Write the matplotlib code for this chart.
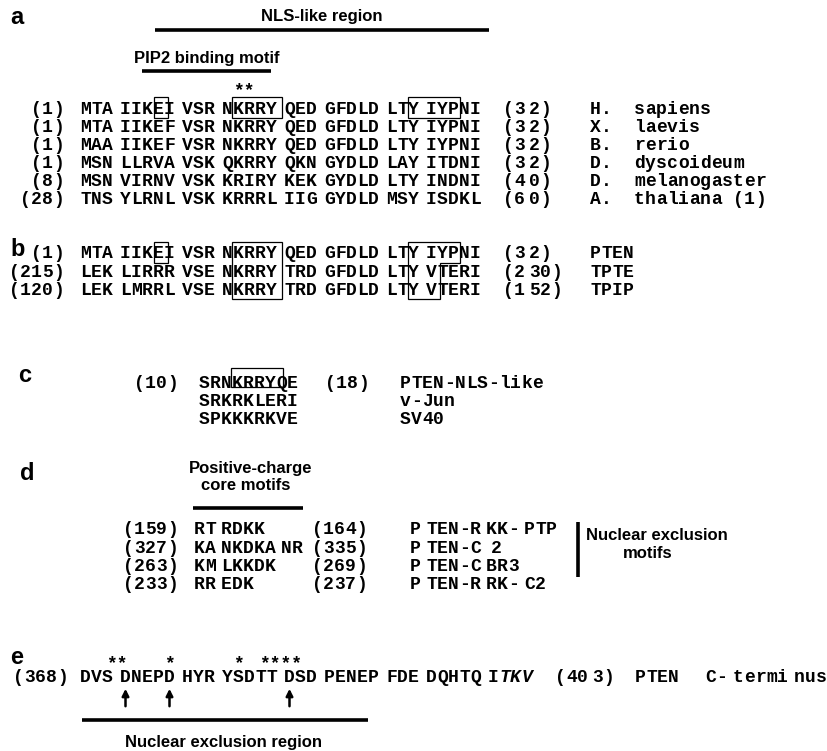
import matplotlib
matplotlib.use('Agg')
import matplotlib.pyplot as plt
from matplotlib.patches import Rectangle, Polygon

MONO = 'Liberation Mono'
SANS = 'Liberation Sans'
CW = 11.0    # monospace cell width (px)
GAP = 7.0    # narrow space between sequence blocks (px)
FS = 13      # sequence font size
HFS = 12     # heading font size

# ---- panel a : PTEN N-terminus across species
a_left = ["(1)", "(1)", "(1)", "(1)", "(8)", "(28)"]
a_seqs = ["MTA IIKEI VSR NKRRY QED GFDLD LTY IYPNI",
          "MTA IIKEF VSR NKRRY QED GFDLD LTY IYPNI",
          "MAA IIKEF VSR NKRRY QED GFDLD LTY IYPNI",
          "MSN LLRVA VSK QKRRY QKN GYDLD LAY ITDNI",
          "MSN VIRNV VSK KRIRY KEK GYDLD LTY INDNI",
          "TNS YLRNL VSK KRRRL IIG GYDLD MSY ISDKL"]
a_right = ["(3 2)", "(3 2)", "(3 2)", "(3 2)", "(4 0)", "(6 0)"]
a_species = ["H.  sapiens", "X.  laevis", "B.  rerio", "D.  dyscoideum",
             "D.  melanogaster", "A.  thaliana (1)"]

# ---- panel b : PTEN family
b_left = ["(1)", "(215)", "(120)"]
b_seqs = ["MTA IIKEI VSR NKRRY QED GFDLD LTY IYPNI",
          "LEK LIRRR VSE NKRRY TRD GFDLD LTY VTERI",
          "LEK LMRRL VSE NKRRY TRD GFDLD LTY VTERI"]
b_right = ["(3 2)", "(2 30)", "(1 52)"]
b_names = ["PTEN", "TPTE", "TPIP"]

# ---- panel c : NLS comparison
c_left = ["(10)", "", ""]
c_seqs = ["SRNKRRYQE", "SRKRKLERI", "SPKKKRKVE"]
c_right = ["(18)", "", ""]
c_names = ["PTEN-NLS-like", "v-Jun", "SV40"]

# ---- panel d : nuclear exclusion motifs
d_left = ["(159)", "(327)", "(263)", "(233)"]
d_seqs = ["RT RDKK", "KA NKDKA NR", "KM LKKDK", "RR EDK"]
d_right = ["(164)", "(335)", "(269)", "(237)"]
d_names = ["P TEN-R KK- PTP", "P TEN-C  2", "P TEN-C BR3", "P TEN-R RK- C2"]

# ---- panel e : C-terminus
e_left = "(368)"
e_seq = "DVS DNEPD HYR YSDTT DSD PENEP FDE DQHTQ ITKV"
e_italic = [33, 34, 35]
e_star_groups = [[2, 3], [7], [12], [14, 15, 16, 17]]
e_arrows = [3, 7, 16]
e_right = "(40 3)"

fig = plt.figure(figsize=(8.28, 7.51), dpi=100)
ax = fig.add_axes([0, 0, 1, 1])
ax.set_xlim(0, 828)
ax.set_ylim(751, 0)
ax.axis('off')


def seq_width(s, gap=GAP):
    return sum(gap if c == ' ' else CW for c in s)


def draw_seq(x, y, s, gap=GAP, italic=(), fs=FS):
    lefts = []
    k = 0
    for c in s:
        if c == ' ':
            x += gap
            continue
        ax.text(x + CW / 2, y, c, ha='center', va='center', family=MONO,
                weight='bold', fontsize=fs,
                style='italic' if k in italic else 'normal')
        lefts.append(x)
        x += CW
        k += 1
    return lefts


def draw_right(xr, y, s, gap=GAP):
    return draw_seq(xr - seq_width(s, gap), y, s, gap)


def heading(x, y, s, ha='center'):
    ax.text(x, y, s, ha=ha, va='center', family=SANS, weight='bold',
            fontsize=HFS)


def bar(x0, x1, y):
    ax.plot([x0, x1], [y, y], color='black', lw=2.6, solid_capstyle='butt')


def letter(x, y, s):
    ax.text(x, y, s, ha='left', va='center', family=SANS, weight='bold',
            fontsize=17)


def box(x0, x1, y0, y1):
    ax.add_patch(Rectangle((x0, y0), x1 - x0, y1 - y0, fill=False,
                           ec='black', lw=0.9))


def stars(pos, group, y):
    xc = sum(pos[k] + CW / 2 for k in group) / len(group)
    ax.text(xc, y, '*' * len(group), ha='center', va='center', family=MONO,
            weight='bold', fontsize=FS)


# ---------------- panel a
letter(10, 18, 'a')
a_y = [109 + 18.2 * i for i in range(len(a_seqs))]
a_pos = []
for y, l, s, r, sp in zip(a_y, a_left, a_seqs, a_right, a_species):
    draw_right(64, y, l, gap=4)
    a_pos.append(draw_seq(80, y, s))
    draw_seq(503, y, r, gap=4)
    draw_seq(590, y, sp, gap=CW)

p = a_pos[0]
bar(p[6] + 2, p[31] + CW + 8, 30)
heading((p[6] + p[31] + CW + 10) / 2, 17, 'NLS-like region')
bar(p[5], p[15] + CW - 6, 71)
heading((p[5] + p[15] + CW - 6) / 2, 59, 'PIP2 binding motif')
stars(p, [12, 13], 91)
ya = a_y[0]
box(p[6] + 1, p[6] + CW + 4, ya - 12, ya + 9)
box(p[12] - 1, p[15] + CW + 5, ya - 12, ya + 9)
box(p[26], p[29] + CW + 1, ya - 12, ya + 9)

# ---------------- panel b
letter(10, 250, 'b')
b_y = [254 + 18.2 * i for i in range(len(b_seqs))]
b_pos = []
for y, l, s, r, nm in zip(b_y, b_left, b_seqs, b_right, b_names):
    draw_right(64, y, l, gap=4)
    b_pos.append(draw_seq(80, y, s))
    draw_seq(503, y, r, gap=4)
    draw_seq(590, y, nm, gap=CW)

p = b_pos[0]
yt, yb = b_y[0] - 12, b_y[-1] + 9
box(p[6] + 1, p[6] + CW + 4, yt, b_y[0] + 9)
box(p[12] - 1, p[15] + CW + 5, yt, yb)
ymid = b_y[0] + 9
xl, xr, xm = p[26], p[29] + CW + 1, p[27] + CW + 3
ax.add_patch(Polygon([(xl, yt), (xr, yt), (xr, ymid), (xm, ymid), (xm, yb),
                      (xl, yb)], closed=True, fill=False, ec='black', lw=0.9))

# ---------------- panel c
letter(18, 375, 'c')
c_y = [383 + 18.2 * i for i in range(len(c_seqs))]
c_pos = []
for y, l, s, r, nm in zip(c_y, c_left, c_seqs, c_right, c_names):
    if l:
        draw_right(178, y, l)
    c_pos.append(draw_seq(199, y, s))
    if r:
        draw_seq(325, y, r)
    draw_seq(400, y, nm, gap=CW)
p = c_pos[0]
box(p[3] - 1, p[7] + 7, c_y[0] - 15, c_y[0] + 4)

# ---------------- panel d
letter(20, 473, 'd')
d_y = [530 + 18.3 * i for i in range(len(d_seqs))]
for y, l, s, r, nm in zip(d_y, d_left, d_seqs, d_right, d_names):
    draw_right(178, y, l)
    draw_seq(194, y, s, gap=5)
    draw_seq(312, y, r)
    draw_seq(410, y, nm, gap=5)
bar(193, 303, 508)
heading(251, 468, 'Positive-charge')
heading(246, 486, 'core motifs')
ax.plot([578, 578], [522, 577], color='black', lw=2.6, solid_capstyle='butt')
heading(586, 536, 'Nuclear exclusion', ha='left')
heading(623, 554, 'motifs', ha='left')

# ---------------- panel e
letter(10, 657, 'e')
ye = 678
draw_right(68, ye, e_left)
p = draw_seq(80, ye, e_seq, italic=e_italic)
draw_seq(555, ye, e_right, gap=4)
draw_seq(635, ye, 'PTEN')
draw_seq(705, ye, 'C- termi nus', gap=6)
for g in e_star_groups:
    stars(p, g, 664)
for k in e_arrows:
    ax.annotate('', xy=(p[k] + CW / 2, 686), xytext=(p[k] + CW / 2, 709),
                arrowprops=dict(arrowstyle='-|>', lw=1.8, color='black',
                                mutation_scale=10))
bar(p[0] + 2, p[22] + CW, 720)
heading((p[0] + p[22] + CW) / 2, 742, 'Nuclear exclusion region')

fig.savefig('out.png', dpi=100)
